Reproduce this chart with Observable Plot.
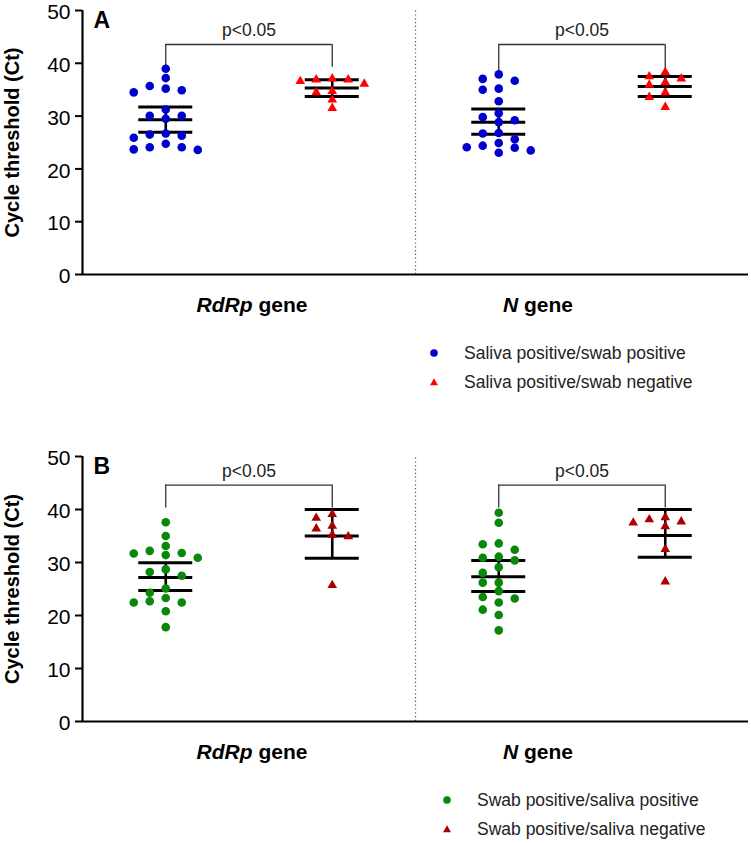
<!DOCTYPE html>
<html><head><meta charset="utf-8">
<script src="https://cdn.jsdelivr.net/npm/d3@7"></script>
<script src="https://cdn.jsdelivr.net/npm/@observablehq/plot@0.6"></script>
<style>
body{margin:0;background:#fff;font-family:"Liberation Sans",Arial,sans-serif;}
#wrap{width:751px;position:relative;}
.legend{position:relative;width:751px;}
.row{position:absolute;font-size:17.5px;color:#222;white-space:nowrap;line-height:20px;}
.mk{position:absolute;}
svg{display:block;}
</style></head><body><div id="wrap"></div>
<script>
// ---------- data ----------
const genes = ["RdRp", "N"];
const groupsA = ["Saliva positive/swab positive", "Saliva positive/swab negative"];
const groupsB = ["Swab positive/saliva positive", "Swab positive/saliva negative"];
const yTicks = [0, 10, 20, 30, 40, 50];
const pLabel = "p<0.05";

// Panel A (Ct values)
const aRdRpPos = [38.96, 37.2, 35.7, 34.5, 35.2, 34.9, 31.25, 30.05, 29.5, 30.05, 26.3, 26.5, 25.9, 26.7, 23.7, 24.75, 24.1, 24.1, 23.6];
const aRdRpNeg = [36.9, 36.6, 36.9, 36.1, 37.1, 34.7, 34.5, 33.1, 31.5];
const aNPos = [37.9, 36.7, 37.05, 35.0, 35.2, 32.8, 29.8, 30.55, 28.85, 29.2, 26.8, 26.7, 25.6, 24.4, 24.0, 24.1, 24.9, 23.05, 23.5];
const aNNeg = [38.3, 37.5, 37.1, 36.4, 35.9, 34.5, 33.6, 31.7];
// Panel B (Ct values)
const bRdRpPos = [37.6, 35.0, 31.7, 32.2, 30.9, 31.8, 33.1, 31.4, 28.2, 27.5, 28.7, 24.3, 25.1, 22.7, 22.45, 23.3, 22.45, 20.8, 17.8];
const bRdRpNeg = [39.1, 38.4, 36.4, 36.9, 34.9, 35.2, 25.7];
const bNPos = [39.4, 37.5, 33.45, 33.6, 32.4, 30.9, 31.1, 30.4, 29.1, 28.05, 26.2, 26.2, 24.6, 22.45, 23.2, 23.5, 21.1, 20.1, 17.2];
const bNNeg = [38.5, 38.1, 37.7, 37.5, 36.8, 32.5, 26.4];

// error bars: [lower, mean, upper]
const aRdRpPosBar = [26.95, 29.3, 31.7];
const aRdRpNegBar = [33.7, 35.3, 36.9];
const aNPosBar = [26.55, 28.85, 31.35];
const aNNegBar = [33.7, 35.6, 37.5];
const bRdRpPosBar = [24.7, 27.15, 29.95];
const bRdRpNegBar = [30.8, 35.0, 40.0];
const bNPosBar = [24.55, 27.3, 30.4];
const bNNegBar = [31.0, 35.1, 40.0];

// ---------- layout ----------
const W = 751, ML = 82, MR = 3, MT = 10, MB = 46;
const PX_X = (W - ML - MR) / 4;
const BAR_HALF = 27 / PX_X;
const LABEL_DX = [3, -44];
const FONT = '"Liberation Sans", Arial, Helvetica, sans-serif';

function swarm(values, center, pxPerY) {
  const order = d3.range(values.length).sort((a, b) => values[b] - values[a]);
  const cands = [0];
  for (let k = 1; k < 8; k++) cands.push(-k, k);
  const placed = [], xs = new Array(values.length);
  for (const i of order) {
    const py = values[i] * pxPerY;
    for (const c of cands) {
      if (!placed.some(p => p.c === c && Math.abs(p.py - py) < 8)) {
        placed.push({c, py});
        xs[i] = center + c * 16 / PX_X;
        break;
      }
    }
  }
  return xs;
}

function makePanel(cfg) {
  const {letter, series, bars, colors, symbols, height} = cfg;
  const pxPerY = (height - MT - MB) / 50;
  const pts = [], ebar = [], brackets = [];
  let panelMax = 0;
  genes.forEach((g, gi) => {
    let gmax = 0;
    [0, 1].forEach(k => {
      const vals = series[gi][k];
      const c = gi * 2 + k + 0.5;
      const xs = swarm(vals, c, pxPerY);
      vals.forEach((v, i) => pts.push({gene: g, grp: k, value: v, x: xs[i]}));
      const b = bars[gi][k];
      ebar.push({x: c, lo: b[0], mean: b[1], hi: b[2]});
      gmax = Math.max(gmax, d3.max(vals), b[2]);
    });
    panelMax = Math.max(panelMax, gmax);
    brackets.push({x1: gi * 2 + 0.5, x2: gi * 2 + 1.5, bottom: gmax + 0.3});
  });
  brackets.forEach(b => b.top = panelMax + 4.6);

  const marks = [
    Plot.ruleX([2], {y1: 0, y2: 50, stroke: "#555", strokeWidth: 1.2, strokeDasharray: "1.2 2.6"}),
    Plot.axisY(yTicks, {tickSize: 7, tickFormat: () => "", strokeWidth: 2, label: null, color: "#000"}),
    Plot.axisY(yTicks, {tickSize: 0, tickPadding: 12, fontSize: 21, label: null, color: "#000", dy: 2}),
    Plot.ruleX([0], {stroke: "#000", strokeWidth: 2.2}),
    Plot.ruleY([0], {stroke: "#000", strokeWidth: 2.2}),
    // brackets
    Plot.ruleX(brackets, {x: "x1", y1: "bottom", y2: "top", stroke: "#333", strokeWidth: 1.3}),
    Plot.ruleX(brackets, {x: "x2", y1: "bottom", y2: "top", stroke: "#333", strokeWidth: 1.3}),
    Plot.ruleY(brackets, {y: "top", x1: "x1", x2: "x2", stroke: "#333", strokeWidth: 1.3}),
    Plot.text(brackets, {x: d => (d.x1 + d.x2) / 2, y: "top", dy: -14, text: () => pLabel, fontSize: 17.5, fill: "#222"}),
    // error bars
    Plot.ruleX(ebar, {x: "x", y1: "lo", y2: "hi", stroke: "#000", strokeWidth: 2.6}),
    Plot.ruleY(ebar, {y: "lo", x1: d => d.x - BAR_HALF, x2: d => d.x + BAR_HALF, stroke: "#000", strokeWidth: 3}),
    Plot.ruleY(ebar, {y: "mean", x1: d => d.x - BAR_HALF, x2: d => d.x + BAR_HALF, stroke: "#000", strokeWidth: 3}),
    Plot.ruleY(ebar, {y: "hi", x1: d => d.x - BAR_HALF, x2: d => d.x + BAR_HALF, stroke: "#000", strokeWidth: 3}),
    // points
    Plot.dot(pts.filter(d => d.grp === 0), {x: "x", y: "value", r: 4.3, fill: colors[0], stroke: "none", symbol: symbols[0]}),
    Plot.dot(pts.filter(d => d.grp === 1), {x: "x", y: "value", r: 3.6, fill: colors[1], stroke: "none", symbol: symbols[1]}),
    // panel letter
    Plot.text([letter], {text: d => d, frameAnchor: "top-left", dx: 11, dy: 1, lineAnchor: "top", textAnchor: "start", fontSize: 23, fontWeight: "bold", fill: "#000"}),
    // y title
    Plot.text(["Cycle threshold (Ct)"], {text: d => d, frameAnchor: "left", dx: -70, rotate: -90, textAnchor: "middle", lineAnchor: "middle", fontSize: 20, fontWeight: "bold", fill: "#000"}),
  ];
  genes.forEach((g, gi) => {
    marks.push(Plot.text([g], {text: d => d + " gene", x: gi * 2 + 1, y: 0, dy: 31, dx: LABEL_DX[gi], fontSize: 21, fontWeight: "bold", fill: "#000"}));
  });

  const svg = Plot.plot({
    width: W, height, marginLeft: ML, marginRight: MR, marginTop: MT, marginBottom: MB,
    x: {domain: [0, 4], axis: null},
    y: {domain: [0, 50]},
    style: {fontFamily: FONT, background: "#fff", color: "#000", overflow: "visible"},
    marks
  });
  // italic gene names
  d3.select(svg).selectAll("text").each(function() {
    const t = this.textContent;
    const g = genes.find(g => t === g + " gene");
    if (g) {
      const s = d3.select(this);
      s.text(null);
      s.append("tspan").attr("font-style", "italic").text(g);
      s.append("tspan").text(" gene");
    }
  });
  return svg;
}

function makeLegend(groups, colors, kinds, markerX, height) {
  const div = document.createElement("div");
  div.className = "legend";
  div.style.height = height + "px";
  groups.forEach((lab, i) => {
    const cy = 33 + i * 29;
    const mk = document.createElementNS("http://www.w3.org/2000/svg", "svg");
    mk.setAttribute("width", 12); mk.setAttribute("height", 12);
    mk.setAttribute("class", "mk");
    mk.style.left = (markerX - 6) + "px"; mk.style.top = (cy - 6) + "px";
    mk.innerHTML = kinds[i] === "circle"
      ? `<circle cx="6" cy="6" r="3.8" fill="${colors[i]}"/>`
      : `<path d="M6,2.2 L10,9.2 L2,9.2 Z" fill="${colors[i]}"/>`;
    div.appendChild(mk);
    const row = document.createElement("div");
    row.className = "row";
    row.style.left = (markerX + 30) + "px";
    row.style.top = (cy - 10) + "px";
    row.textContent = lab;
    div.appendChild(row);
  });
  return div;
}

const wrap = document.getElementById("wrap");
const colA = ["#0000cd", "#ff0000"];
const colB = ["#0a870a", "#aa0000"];
wrap.appendChild(makePanel({
  letter: "A", height: 320,
  series: [[aRdRpPos, aRdRpNeg], [aNPos, aNNeg]],
  bars: [[aRdRpPosBar, aRdRpNegBar], [aNPosBar, aNNegBar]],
  colors: colA, symbols: ["circle", "triangle"]
}));
wrap.appendChild(makeLegend(groupsA, colA, ["circle", "triangle"], 434, 126));
wrap.appendChild(makePanel({
  letter: "B", height: 321,
  series: [[bRdRpPos, bRdRpNeg], [bNPos, bNNeg]],
  bars: [[bRdRpPosBar, bRdRpNegBar], [bNPosBar, bNNegBar]],
  colors: colB, symbols: ["circle", "triangle"]
}));
wrap.appendChild(makeLegend(groupsB, colB, ["circle", "triangle"], 447, 76));
</script></body></html>
